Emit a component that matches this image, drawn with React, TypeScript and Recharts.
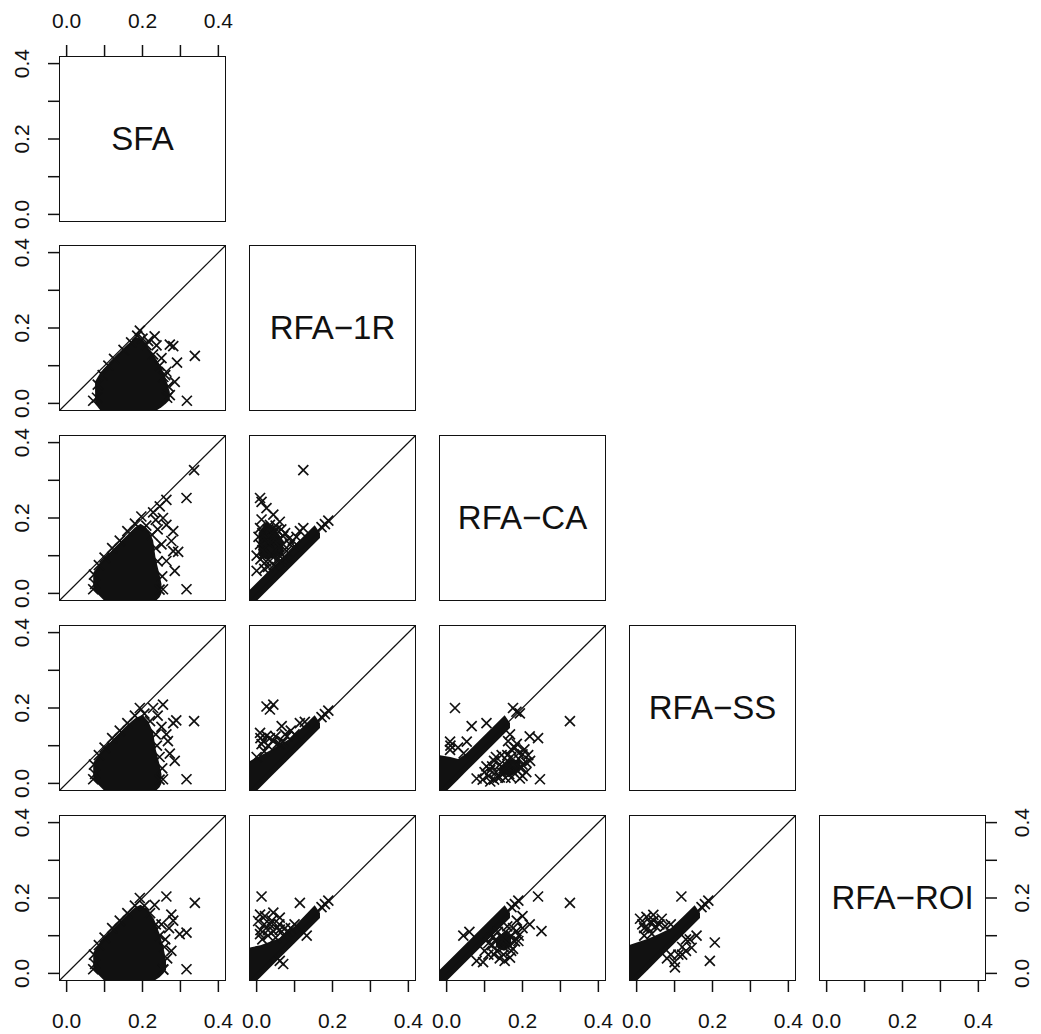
import { ComposedChart, Area, Scatter, XAxis, YAxis, ReferenceLine } from "recharts";

type P = [number, number];
type C = [number, number, number];

const NAMES = ["SFA", "RFA−1R", "RFA−CA", "RFA−SS", "RFA−ROI"];
const TICKS = [0, 0.1, 0.2, 0.3, 0.4];
const DOMAIN: [number, number] = [-0.0175, 0.4175];

// SFA (x) against the four RFA variants (y): dense core [x, low, high] + single points
const sfa1rCore: C[] = [
  [0.075, 0.0, 0.058], [0.09, -0.02, 0.083], [0.11, -0.02, 0.105], [0.13, -0.02, 0.126],
  [0.15, -0.02, 0.146], [0.17, -0.02, 0.164], [0.185, -0.02, 0.176], [0.2, -0.02, 0.168],
  [0.215, -0.02, 0.148], [0.235, -0.02, 0.12], [0.25, -0.01, 0.095], [0.262, 0.0, 0.065],
  [0.272, 0.01, 0.03],
];
const sfa1rPts: P[] = [
  [0.338, 0.126], [0.317, 0.007], [0.281, 0.152], [0.272, 0.156], [0.291, 0.108], [0.285, 0.057],
  [0.232, 0.178], [0.237, 0.154], [0.193, 0.193], [0.263, 0.084], [0.272, 0.022], [0.07, 0.007],
  [0.255, 0.07], [0.08, 0.015], [0.082, 0.05], [0.095, 0.075], [0.11, 0.1], [0.125, 0.118],
  [0.15, 0.142], [0.17, 0.162], [0.186, 0.18], [0.21, 0.155], [0.228, 0.13], [0.245, 0.1],
  [0.26, 0.075], [0.268, 0.045], [0.265, 0.015], [0.215, 0.165], [0.2, 0.172], [0.25, 0.12],
];

const sfaCaCore: C[] = [
  [0.07, 0.01, 0.055], [0.085, -0.005, 0.075], [0.1, -0.02, 0.093], [0.12, -0.02, 0.115],
  [0.14, -0.02, 0.135], [0.16, -0.02, 0.155], [0.18, -0.02, 0.175], [0.195, -0.02, 0.185],
  [0.21, -0.02, 0.175], [0.222, -0.02, 0.155], [0.228, -0.02, 0.14], [0.235, -0.02, 0.09],
  [0.245, -0.01, 0.05], [0.25, 0.0, 0.025],
];
const sfaCaPts: P[] = [
  [0.336, 0.327], [0.316, 0.253], [0.263, 0.248], [0.2455, 0.231], [0.228, 0.215], [0.316, 0.011],
  [0.281, 0.112], [0.294, 0.11], [0.285, 0.06], [0.263, 0.086], [0.263, 0.182], [0.281, 0.165],
  [0.276, 0.139], [0.254, 0.2], [0.254, 0.011], [0.07, 0.011], [0.197, 0.204], [0.24, 0.17],
  [0.25, 0.13], [0.072, 0.05], [0.085, 0.075], [0.1, 0.095], [0.12, 0.12], [0.14, 0.14],
  [0.16, 0.165], [0.18, 0.185], [0.21, 0.18], [0.225, 0.155], [0.235, 0.12], [0.24, 0.085],
  [0.252, 0.045], [0.245, 0.01], [0.075, 0.025], [0.235, 0.195],
];

const sfaSsCore: C[] = [
  [0.07, 0.01, 0.055], [0.085, -0.005, 0.075], [0.1, -0.02, 0.093], [0.12, -0.02, 0.115],
  [0.14, -0.02, 0.135], [0.16, -0.02, 0.155], [0.18, -0.02, 0.172], [0.2, -0.02, 0.182],
  [0.215, -0.02, 0.165], [0.228, -0.02, 0.135], [0.235, -0.02, 0.09], [0.245, -0.01, 0.05],
  [0.25, 0.0, 0.025],
];
const sfaSsPts: P[] = [
  [0.336, 0.165], [0.316, 0.011], [0.254, 0.209], [0.228, 0.2], [0.281, 0.16], [0.289, 0.167],
  [0.263, 0.13], [0.267, 0.112], [0.285, 0.06], [0.272, 0.079], [0.254, 0.011], [0.07, 0.011],
  [0.193, 0.2], [0.25, 0.15], [0.24, 0.18], [0.072, 0.05], [0.085, 0.075], [0.1, 0.095],
  [0.12, 0.12], [0.14, 0.14], [0.16, 0.16], [0.18, 0.18], [0.205, 0.185], [0.22, 0.165],
  [0.235, 0.13], [0.238, 0.1], [0.245, 0.07], [0.252, 0.04], [0.245, 0.01], [0.075, 0.025],
];

const sfaRoiCore: C[] = [
  [0.07, 0.01, 0.055], [0.085, -0.005, 0.078], [0.1, -0.02, 0.095], [0.12, -0.02, 0.117],
  [0.14, -0.02, 0.137], [0.16, -0.02, 0.157], [0.18, -0.02, 0.175], [0.195, -0.02, 0.182],
  [0.21, -0.02, 0.172], [0.23, -0.02, 0.145], [0.245, -0.01, 0.105], [0.255, 0.0, 0.07],
  [0.262, 0.01, 0.035],
];
const sfaRoiPts: P[] = [
  [0.338, 0.187], [0.316, 0.011], [0.263, 0.204], [0.232, 0.182], [0.276, 0.156], [0.281, 0.14],
  [0.316, 0.108], [0.298, 0.104], [0.276, 0.06], [0.254, 0.011], [0.07, 0.011], [0.193, 0.2],
  [0.25, 0.13], [0.26, 0.09], [0.072, 0.05], [0.085, 0.075], [0.1, 0.095], [0.12, 0.12],
  [0.14, 0.14], [0.16, 0.16], [0.18, 0.18], [0.205, 0.18], [0.22, 0.16], [0.235, 0.13],
  [0.245, 0.1], [0.258, 0.07], [0.265, 0.04], [0.255, 0.01], [0.075, 0.025], [0.27, 0.12],
];

// RFA variants against each other: band along the diagonal, dense patch + scattered points
const r1rCaCore: C[] = [[-0.02, -0.04, 0.008], [0.153, 0.133, 0.181], [0.167, 0.147, 0.16]];
const r1rCaPatch: C[] = [[0.005, 0.1, 0.16], [0.025, 0.09, 0.19], [0.05, 0.095, 0.17], [0.07, 0.105, 0.14]];
const r1rCaPts: P[] = [
  [0.009, 0.253], [0.013, 0.243], [0.026, 0.226], [0.013, 0.196], [0.044, 0.209], [0.061, 0.19],
  [0.035, 0.182], [0.009, 0.173], [0.053, 0.169], [0.026, 0.152], [0.07, 0.152], [0.044, 0.139],
  [0.009, 0.13], [0.079, 0.112], [0.088, 0.13], [0.018, 0.104], [0.035, 0.086], [0.114, 0.165],
  [0.123, 0.173], [0.123, 0.327], [0.171, 0.176], [0.18, 0.184], [0.189, 0.193], [0.02, 0.12],
  [0.05, 0.115], [0.06, 0.1], [0.03, 0.07], [0.0, 0.06], [0.01, 0.09], [0.045, 0.075],
  [0.065, 0.085], [0.075, 0.095], [0.04, 0.16], [0.02, 0.145], [0.055, 0.14], [0.1, 0.125],
  [0.015, 0.16], [0.03, 0.17], [0.05, 0.18], [0.065, 0.17], [0.075, 0.16], [0.085, 0.145],
  [0.06, 0.125], [0.03, 0.135], [0.015, 0.115], [0.04, 0.1], [0.055, 0.09], [0.025, 0.085],
  [0.07, 0.13], [0.095, 0.14], [0.105, 0.15], [0.005, 0.15], [0.0, 0.1], [0.02, 0.065],
];

const r1rSsCore: C[] = [
  [-0.02, -0.04, 0.058], [0.04, 0.02, 0.09], [0.09, 0.07, 0.12], [0.12, 0.1, 0.148],
  [0.153, 0.133, 0.181], [0.167, 0.147, 0.16],
];
const r1rSsPts: P[] = [
  [0.026, 0.204], [0.044, 0.209], [0.035, 0.196], [0.066, 0.152], [0.114, 0.16], [0.127, 0.163],
  [0.009, 0.134], [0.026, 0.126], [0.018, 0.112], [0.013, 0.104], [0.044, 0.112], [0.061, 0.104],
  [0.03, 0.1], [0.055, 0.105], [0.07, 0.11], [0.171, 0.176], [0.18, 0.184], [0.189, 0.193],
  [0.1, 0.13], [0.08, 0.125], [0.0, 0.07], [0.02, 0.085], [0.01, 0.12], [0.035, 0.12],
  [0.05, 0.125], [0.075, 0.13], [0.09, 0.14],
];

const r1rRoiCore: C[] = [
  [-0.02, -0.04, 0.068], [0.01, -0.01, 0.075], [0.06, 0.04, 0.093], [0.1, 0.08, 0.125],
  [0.153, 0.133, 0.181], [0.167, 0.147, 0.16],
];
const r1rRoiPts: P[] = [
  [0.013, 0.204], [0.114, 0.187], [0.009, 0.156], [0.022, 0.152], [0.044, 0.161], [0.061, 0.148],
  [0.004, 0.139], [0.035, 0.13], [0.01, 0.115], [0.044, 0.112], [0.053, 0.12], [0.061, 0.116],
  [0.061, 0.033], [0.07, 0.025], [0.132, 0.1], [0.171, 0.176], [0.18, 0.184], [0.189, 0.193],
  [0.03, 0.1], [0.08, 0.11], [0.009, 0.104], [0.02, 0.13], [0.04, 0.14], [0.06, 0.13],
  [0.075, 0.12], [0.09, 0.12], [0.1, 0.13], [0.03, 0.115], [0.015, 0.09], [0.05, 0.095],
  [0.07, 0.1],
];

const caSsCore: C[] = [
  [-0.02, -0.04, 0.075], [0.01, -0.01, 0.07], [0.03, 0.01, 0.065], [0.05, 0.03, 0.078],
  [0.153, 0.133, 0.181], [0.167, 0.147, 0.16],
];
const caSsPatch: C[] = [[0.14, 0.025, 0.045], [0.17, 0.02, 0.065], [0.195, 0.035, 0.06]];
const caSsPts: P[] = [
  [0.022, 0.2], [0.066, 0.152], [0.105, 0.16], [0.325, 0.165], [0.219, 0.125], [0.241, 0.12],
  [0.167, 0.13], [0.162, 0.112], [0.175, 0.2], [0.184, 0.19], [0.193, 0.186], [0.246, 0.011],
  [0.2, 0.077], [0.2, 0.05], [0.175, 0.031], [0.193, 0.013], [0.14, 0.016], [0.079, 0.013],
  [0.009, 0.111], [0.053, 0.111], [0.009, 0.089], [0.1, 0.03], [0.11, 0.02], [0.12, 0.045],
  [0.13, 0.03], [0.14, 0.05], [0.15, 0.04], [0.16, 0.06], [0.165, 0.025], [0.17, 0.07],
  [0.18, 0.05], [0.185, 0.035], [0.19, 0.065], [0.155, 0.015], [0.125, 0.06], [0.145, 0.075],
  [0.095, 0.01], [0.21, 0.03], [0.205, 0.09], [0.18, 0.095], [0.22, 0.06], [0.115, 0.005],
  [0.01, 0.1], [0.03, 0.095], [0.045, 0.08], [0.105, 0.045], [0.135, 0.015], [0.145, 0.03],
  [0.16, 0.045], [0.17, 0.015], [0.175, 0.05], [0.195, 0.04], [0.2, 0.02], [0.21, 0.055],
  [0.215, 0.075], [0.19, 0.08], [0.16, 0.075], [0.13, 0.07], [0.115, 0.035], [0.125, 0.01],
  [0.185, 0.105], [0.17, 0.09],
];

const caRoiCore: C[] = [[-0.02, -0.04, 0.008], [0.153, 0.133, 0.181], [0.167, 0.147, 0.16]];
const caRoiPatch: C[] = [[0.13, 0.07, 0.09], [0.15, 0.06, 0.11], [0.17, 0.07, 0.1]];
const caRoiPts: P[] = [
  [0.241, 0.204], [0.325, 0.187], [0.25, 0.112], [0.219, 0.13], [0.2, 0.152], [0.184, 0.112],
  [0.189, 0.086], [0.171, 0.176], [0.18, 0.184], [0.189, 0.193], [0.044, 0.1], [0.079, 0.033],
  [0.096, 0.03], [0.153, 0.033], [0.167, 0.042], [0.132, 0.06], [0.14, 0.08], [0.15, 0.07],
  [0.16, 0.09], [0.17, 0.1], [0.12, 0.075], [0.11, 0.05], [0.175, 0.065], [0.2, 0.12],
  [0.185, 0.14], [0.13, 0.09], [0.155, 0.11], [0.06, 0.11], [0.1, 0.06], [0.11, 0.08],
  [0.12, 0.095], [0.135, 0.11], [0.145, 0.095], [0.15, 0.05], [0.165, 0.075], [0.17, 0.06],
  [0.18, 0.085], [0.175, 0.12], [0.16, 0.125], [0.14, 0.04], [0.125, 0.05], [0.19, 0.1],
];

const ssRoiCore: C[] = [
  [-0.02, -0.04, 0.075], [0.03, 0.01, 0.092], [0.06, 0.04, 0.105], [0.09, 0.07, 0.12],
  [0.12, 0.1, 0.148], [0.153, 0.133, 0.181], [0.167, 0.147, 0.16],
];
const ssRoiPts: P[] = [
  [0.118, 0.204], [0.009, 0.145], [0.026, 0.15], [0.044, 0.155], [0.066, 0.145], [0.035, 0.135],
  [0.158, 0.1], [0.145, 0.068], [0.206, 0.082], [0.193, 0.033], [0.101, 0.016], [0.11, 0.05],
  [0.171, 0.176], [0.18, 0.184], [0.189, 0.193], [0.02, 0.12], [0.05, 0.125], [0.08, 0.04],
  [0.12, 0.07], [0.13, 0.09], [0.015, 0.13], [0.03, 0.12], [0.045, 0.14], [0.06, 0.13],
  [0.075, 0.125], [0.09, 0.13], [0.04, 0.105], [0.02, 0.1], [0.09, 0.05], [0.1, 0.03],
  [0.12, 0.05], [0.14, 0.09], [0.13, 0.06],
];

const PANELS: { r: number; c: number; core: C[]; patch?: C[]; pts: P[] }[] = [
  { r: 1, c: 0, core: sfa1rCore, pts: sfa1rPts },
  { r: 2, c: 0, core: sfaCaCore, pts: sfaCaPts },
  { r: 3, c: 0, core: sfaSsCore, pts: sfaSsPts },
  { r: 4, c: 0, core: sfaRoiCore, pts: sfaRoiPts },
  { r: 2, c: 1, core: r1rCaCore, patch: r1rCaPatch, pts: r1rCaPts },
  { r: 3, c: 1, core: r1rSsCore, pts: r1rSsPts },
  { r: 4, c: 1, core: r1rRoiCore, pts: r1rRoiPts },
  { r: 3, c: 2, core: caSsCore, patch: caSsPatch, pts: caSsPts },
  { r: 4, c: 2, core: caRoiCore, patch: caRoiPatch, pts: caRoiPts },
  { r: 4, c: 3, core: ssRoiCore, pts: ssRoiPts },
];

const COL_X = [60, 250, 440, 630, 820];
const ROW_Y = [57, 246, 436, 626, 816];
const PW = 165;
const PH = 164;
const INK = "#111";
const FONT = "'Liberation Sans', Arial, Helvetica, sans-serif";
const TICK_FS = 21;

const fmt = (v: number) => (Math.round(v * 10) % 2 === 0 ? v.toFixed(1) : "");

const Cross = (p: any) => {
  const { cx, cy } = p;
  const s = 5;
  return (
    <path
      d={`M${cx - s},${cy - s}L${cx + s},${cy + s}M${cx - s},${cy + s}L${cx + s},${cy - s}`}
      stroke={INK}
      strokeWidth={1.7}
      fill="none"
    />
  );
};

const TopTick = (p: any) => (
  <text x={p.x} y={27.5} textAnchor="middle" fontSize={TICK_FS} fill={INK} fontFamily={FONT}>
    {fmt(p.payload.value)}
  </text>
);
const BottomTick = (p: any) => (
  <text x={p.x} y={PH + 47.5} textAnchor="middle" fontSize={TICK_FS} fill={INK} fontFamily={FONT}>
    {fmt(p.payload.value)}
  </text>
);
const LeftTick = (p: any) => (
  <text x={29.2} y={p.y} transform={`rotate(-90 29.2 ${p.y})`} textAnchor="middle" fontSize={TICK_FS} fill={INK} fontFamily={FONT}>
    {fmt(p.payload.value)}
  </text>
);
const RightTick = (p: any) => (
  <text x={PW + 44.2} y={p.y} transform={`rotate(-90 ${PW + 44.2} ${p.y})`} textAnchor="middle" fontSize={TICK_FS} fill={INK} fontFamily={FONT}>
    {fmt(p.payload.value)}
  </text>
);

const band = (rows: C[]) => rows.map(([x, lo, hi]) => ({ x, range: [lo, hi] }));

function Panel({ r, c, core, patch, pts }: { r: number; c: number; core?: C[]; patch?: C[]; pts?: P[] }) {
  const left = c === 0;
  const top = r === 0 && c === 0;
  const bottom = r === 4;
  const right = r === 4 && c === 4;
  const mL = left ? 60 : 0;
  const mT = top ? 57 : 0;
  const mB = bottom ? 54 : 0;
  const mR = right ? 56 : 0;
  const w = PW + mL + mR;
  const h = PH + mT + mB;
  const ptData = (pts || []).map(([x, y]) => ({ x, y }));
  return (
    <div style={{ position: "absolute", left: COL_X[c] - mL, top: ROW_Y[r] - mT, width: w, height: h }}>
      <ComposedChart width={w} height={h} margin={{ top: 0, right: 0, bottom: 0, left: 0 }}>
        <XAxis
          type="number"
          dataKey="x"
          domain={DOMAIN}
          allowDataOverflow
          ticks={TICKS}
          interval={0}
          orientation={top ? "top" : "bottom"}
          hide={!top && !bottom}
          height={top ? mT : mB}
          tickSize={12}
          axisLine={false}
          tickLine={{ stroke: INK, strokeWidth: 1.5 }}
          tick={top ? TopTick : BottomTick}
        />
        <YAxis
          type="number"
          dataKey="y"
          domain={DOMAIN}
          allowDataOverflow
          ticks={TICKS}
          interval={0}
          orientation={right ? "right" : "left"}
          hide={!left && !right}
          width={left ? mL : mR}
          tickSize={12}
          axisLine={false}
          tickLine={{ stroke: INK, strokeWidth: 1.5 }}
          tick={right ? RightTick : LeftTick}
        />
        {core && (
          <ReferenceLine
            segment={[{ x: DOMAIN[0], y: DOMAIN[0] }, { x: DOMAIN[1], y: DOMAIN[1] }]}
            stroke={INK}
            strokeWidth={1.2}
          />
        )}
        {core && (
          <Area
            data={band(core)}
            dataKey="range"
            type="linear"
            fill={INK}
            fillOpacity={1}
            stroke="none"
            dot={false}
            activeDot={false}
            isAnimationActive={false}
          />
        )}
        {patch && (
          <Area
            data={band(patch)}
            dataKey="range"
            type="linear"
            fill={INK}
            fillOpacity={1}
            stroke="none"
            dot={false}
            activeDot={false}
            isAnimationActive={false}
          />
        )}
        {pts && <Scatter data={ptData} shape={Cross} isAnimationActive={false} />}
      </ComposedChart>
      <div
        style={{
          position: "absolute",
          left: mL - 0.75,
          top: mT - 0.75,
          width: PW + 1.5,
          height: PH + 1.5,
          border: `1.5px solid ${INK}`,
          boxSizing: "border-box",
          pointerEvents: "none",
        }}
      />
    </div>
  );
}

export default function App() {
  return (
    <div style={{ position: "absolute", left: 0, top: 0, width: 1041, height: 1034, background: "#fff", fontFamily: FONT }}>
      <style>{".recharts-surface, .recharts-wrapper { overflow: visible !important; }"}</style>
      {PANELS.map((p) => (
        <Panel key={`${p.r}-${p.c}`} {...p} />
      ))}
      {NAMES.map((name, i) => (
        <div key={name}>
          <Panel r={i} c={i} />
          <div
            style={{
              position: "absolute",
              left: COL_X[i],
              top: ROW_Y[i],
              width: PW,
              height: PH,
              display: "flex",
              alignItems: "center",
              justifyContent: "center",
              fontSize: 33,
              color: INK,
              fontFamily: FONT,
            }}
          >
            {name}
          </div>
        </div>
      ))}
    </div>
  );
}
